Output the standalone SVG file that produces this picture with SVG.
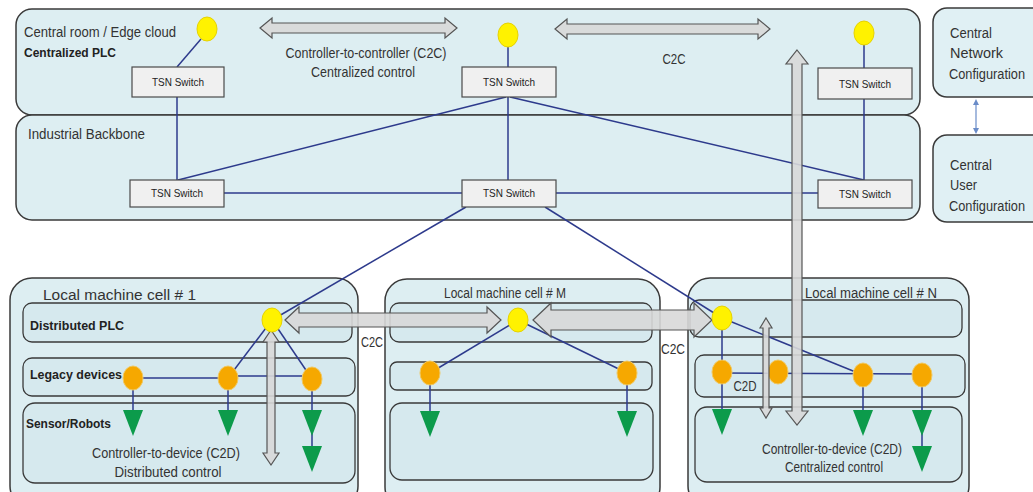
<svg xmlns="http://www.w3.org/2000/svg" width="1033" height="492" viewBox="0 0 1033 492">
  <style>
    .zone { fill: #ddeef2; stroke: #3a3a3a; stroke-width: 1.5; }
    .row { fill: #d6e9ee; stroke: #3a3a3a; stroke-width: 1.3; }
    .cfg { fill: #e0f0f4; stroke: #3a3a3a; stroke-width: 1.5; }
    .sw { fill: #f0f0f0; stroke: #4a4a4a; stroke-width: 1.2; }
    .swt { font-family: "Liberation Sans", Arial, sans-serif; font-size: 10.5px; fill: #222; text-anchor: middle; }
    .lbl { font-family: "Liberation Sans", Arial, sans-serif; font-size: 15.5px; fill: #333; }
    .lblc { font-family: "Liberation Sans", Arial, sans-serif; font-size: 14.5px; fill: #333; text-anchor: middle; }
    .bold { font-family: "Liberation Sans", Arial, sans-serif; font-size: 13.5px; font-weight: bold; fill: #222; }
    .ctl { fill: #fff200; stroke: #e6d200; stroke-width: 1; }
    .dev { fill: #f6a800; stroke: #f0c860; stroke-width: 1; }
    .act { fill: #0c9b4b; }
    .link { stroke: #2d3a8c; stroke-width: 1.5; fill: none; }
    .flow { fill: #d8d8d8; fill-opacity: 0.9; stroke: #555; stroke-width: 1.2; }
  </style>

  <!-- zones -->
  <g id="zone-central">
    <rect class="zone" x="16" y="9" width="904" height="106" rx="16"/>
    <text class="lbl" x="24" y="37" textLength="152" lengthAdjust="spacingAndGlyphs">Central room / Edge cloud</text>
    <text class="bold" x="24" y="57" textLength="92" lengthAdjust="spacingAndGlyphs">Centralized PLC</text>
  </g>
  <g id="zone-backbone">
    <rect class="zone" x="16" y="115" width="904" height="105" rx="16"/>
    <text class="lbl" x="28" y="139" textLength="117" lengthAdjust="spacingAndGlyphs">Industrial Backbone</text>
  </g>
  <g id="cfg-network">
    <rect class="cfg" x="933" y="8" width="120" height="89" rx="14"/>
    <text class="lbl" x="950" y="38" textLength="42" lengthAdjust="spacingAndGlyphs">Central</text>
    <text class="lbl" x="950" y="58" textLength="53" lengthAdjust="spacingAndGlyphs">Network</text>
    <text class="lbl" x="949" y="79" textLength="76" lengthAdjust="spacingAndGlyphs">Configuration</text>
  </g>
  <g id="cfg-user">
    <rect class="cfg" x="933" y="135" width="120" height="87" rx="14"/>
    <text class="lbl" x="950" y="170" textLength="42" lengthAdjust="spacingAndGlyphs">Central</text>
    <text class="lbl" x="950" y="190" textLength="27" lengthAdjust="spacingAndGlyphs">User</text>
    <text class="lbl" x="949" y="211" textLength="76" lengthAdjust="spacingAndGlyphs">Configuration</text>
  </g>

  <!-- machine cells -->
  <g id="cell-1">
    <rect class="zone" x="10" y="278" width="348" height="230" rx="22"/>
    <text class="lbl" x="43" y="300" textLength="153" lengthAdjust="spacingAndGlyphs">Local machine cell # 1</text>
    <rect class="row" x="23" y="303" width="329" height="39" rx="9"/>
    <rect class="row" x="23" y="358" width="332" height="38" rx="9"/>
    <rect class="row" x="23" y="403" width="332" height="80" rx="12"/>
    <text class="bold" x="30" y="330" textLength="94" lengthAdjust="spacingAndGlyphs">Distributed PLC</text>
    <text class="bold" x="30" y="379" textLength="92" lengthAdjust="spacingAndGlyphs">Legacy devices</text>
    <text class="bold" x="26" y="428" textLength="85" lengthAdjust="spacingAndGlyphs">Sensor/Robots</text>
    <text class="lblc" x="166" y="458" textLength="148" lengthAdjust="spacingAndGlyphs">Controller-to-device (C2D)</text>
    <text class="lblc" x="168" y="477" textLength="107" lengthAdjust="spacingAndGlyphs">Distributed control</text>
  </g>
  <g id="cell-m">
    <rect class="zone" x="385" y="279" width="275" height="230" rx="22"/>
    <text class="lbl" x="444" y="298" textLength="122" lengthAdjust="spacingAndGlyphs">Local machine cell # M</text>
    <rect class="row" x="390" y="303" width="262" height="39" rx="9"/>
    <rect class="row" x="390" y="362" width="262" height="28" rx="7"/>
    <rect class="row" x="390" y="403" width="263" height="77" rx="12"/>
  </g>
  <g id="cell-n">
    <rect class="zone" x="688" y="278" width="281" height="230" rx="22"/>
    <text class="lbl" x="805" y="298" textLength="132" lengthAdjust="spacingAndGlyphs">Local machine cell # N</text>
    <rect class="row" x="690" y="300" width="272" height="37" rx="9"/>
    <rect class="row" x="695" y="355" width="270" height="42" rx="9"/>
    <rect class="row" x="695" y="407" width="267" height="75" rx="12"/>
    <text class="lblc" x="832" y="454" textLength="140" lengthAdjust="spacingAndGlyphs">Controller-to-device (C2D)</text>
    <text class="lblc" x="834" y="472" textLength="98" lengthAdjust="spacingAndGlyphs">Centralized control</text>
  </g>

  <!-- links -->
  <g id="connectors">
    <!-- central room / backbone -->
    <line class="link" x1="201" y1="39" x2="177" y2="67"/>
    <line class="link" x1="177" y1="97" x2="177" y2="180"/>
    <line class="link" x1="508" y1="47" x2="508" y2="67"/>
    <line class="link" x1="508" y1="97" x2="508" y2="180"/>
    <line class="link" x1="506" y1="97" x2="178" y2="180"/>
    <line class="link" x1="510" y1="97" x2="864" y2="180"/>
    <line class="link" x1="864" y1="45" x2="864" y2="68"/>
    <line class="link" x1="864" y1="99" x2="864" y2="180"/>
    <line class="link" x1="224" y1="193" x2="462" y2="193"/>
    <line class="link" x1="556" y1="193" x2="818" y2="193"/>
    <!-- backbone to cells -->
    <line class="link" x1="466" y1="207" x2="272" y2="320"/>
    <line class="link" x1="545" y1="207" x2="722" y2="318"/>
    <!-- cell 1 -->
    <line class="link" x1="272" y1="320" x2="228" y2="378"/>
    <line class="link" x1="272" y1="320" x2="312" y2="379"/>
    <line class="link" x1="133" y1="378" x2="228" y2="378"/>
    <line class="link" x1="228" y1="376" x2="312" y2="376"/>
    <line class="link" x1="133" y1="378" x2="133" y2="412"/>
    <line class="link" x1="228" y1="378" x2="228" y2="412"/>
    <line class="link" x1="312" y1="379" x2="312" y2="450"/>
    <!-- cell M -->
    <line class="link" x1="518" y1="320" x2="430" y2="373"/>
    <line class="link" x1="518" y1="320" x2="627" y2="373"/>
    <line class="link" x1="430" y1="373" x2="430" y2="413"/>
    <line class="link" x1="627" y1="373" x2="627" y2="413"/>
    <!-- cell N -->
    <line class="link" x1="722" y1="318" x2="722" y2="412"/>
    <line class="link" x1="722" y1="318" x2="863" y2="375"/>
    <line class="link" x1="722" y1="373" x2="922" y2="374"/>
    <line class="link" x1="863" y1="375" x2="863" y2="413"/>
    <line class="link" x1="922" y1="375" x2="922" y2="450"/>
    <!-- configuration link -->
    <line x1="976" y1="102" x2="976" y2="131" stroke="#6a8cc8" stroke-width="1.2"/>
    <path d="M976,99 L973,105 L979,105 Z M976,134 L973,128 L979,128 Z" fill="#6a8cc8"/>
  </g>

  <!-- switches -->
  <g id="sw-top-left"><rect class="sw" x="132" y="67" width="92" height="30"/><text class="swt" x="178" y="86" textLength="52" lengthAdjust="spacingAndGlyphs">TSN Switch</text></g>
  <g id="sw-top-mid"><rect class="sw" x="462" y="67" width="94" height="30"/><text class="swt" x="509" y="86" textLength="52" lengthAdjust="spacingAndGlyphs">TSN Switch</text></g>
  <g id="sw-top-right"><rect class="sw" x="818" y="68" width="94" height="31"/><text class="swt" x="865" y="88" textLength="52" lengthAdjust="spacingAndGlyphs">TSN Switch</text></g>
  <g id="sw-bb-left"><rect class="sw" x="130" y="180" width="94" height="27"/><text class="swt" x="177" y="197" textLength="52" lengthAdjust="spacingAndGlyphs">TSN Switch</text></g>
  <g id="sw-bb-mid"><rect class="sw" x="462" y="180" width="94" height="27"/><text class="swt" x="509" y="197" textLength="52" lengthAdjust="spacingAndGlyphs">TSN Switch</text></g>
  <g id="sw-bb-right"><rect class="sw" x="818" y="180" width="94" height="28"/><text class="swt" x="865" y="198" textLength="52" lengthAdjust="spacingAndGlyphs">TSN Switch</text></g>

  <!-- controllers -->
  <g id="plc-central-1"><ellipse class="ctl" cx="207" cy="29" rx="10" ry="12"/></g>
  <g id="plc-central-2"><ellipse class="ctl" cx="508" cy="35" rx="10" ry="12"/></g>
  <g id="plc-central-3"><ellipse class="ctl" cx="864" cy="33" rx="10" ry="12"/></g>

  <!-- legacy devices -->
  <g id="dev-1a"><ellipse class="dev" cx="133" cy="378" rx="10" ry="12"/></g>
  <g id="dev-1b"><ellipse class="dev" cx="228" cy="378" rx="10" ry="12"/></g>
  <g id="dev-1c"><ellipse class="dev" cx="312" cy="379" rx="10" ry="12"/></g>
  <g id="dev-ma"><ellipse class="dev" cx="430" cy="373" rx="10" ry="12"/></g>
  <g id="dev-mb"><ellipse class="dev" cx="627" cy="373" rx="10" ry="12"/></g>
  <g id="dev-na"><ellipse class="dev" cx="722" cy="372" rx="10" ry="12"/></g>
  <g id="dev-nb"><ellipse class="dev" cx="778" cy="372" rx="10" ry="12"/></g>
  <g id="dev-nc"><ellipse class="dev" cx="863" cy="375" rx="10" ry="12"/></g>
  <g id="dev-nd"><ellipse class="dev" cx="922" cy="375" rx="10" ry="12"/></g>

  <!-- sensors / robots -->
  <g id="act-1a"><path class="act" d="M123,410 L143,410 L133,436 Z"/></g>
  <g id="act-1b"><path class="act" d="M218,410 L238,410 L228,436 Z"/></g>
  <g id="act-1c"><path class="act" d="M302,410 L322,410 L312,436 Z"/></g>
  <g id="act-1d"><path class="act" d="M302,446 L322,446 L312,472 Z"/></g>
  <g id="act-ma"><path class="act" d="M420,411 L440,411 L430,437 Z"/></g>
  <g id="act-mb"><path class="act" d="M617,411 L637,411 L627,437 Z"/></g>
  <g id="act-na"><path class="act" d="M712,409 L732,409 L722,435 Z"/></g>
  <g id="act-nc"><path class="act" d="M853,410 L873,410 L863,436 Z"/></g>
  <g id="act-nd"><path class="act" d="M912,410 L932,410 L922,436 Z"/></g>
  <g id="act-ne"><path class="act" d="M912,446 L932,446 L922,472 Z"/></g>

  <!-- traffic arrows -->
  <g id="flows">
    <!-- C2C, central room -->
    <path class="flow" d="M260,28 L272,18 L272,23 L445,23 L445,18 L457,28 L445,38 L445,33 L272,33 L272,38 Z"/>
    <path class="flow" d="M555,29 L567,19 L567,24 L758,24 L758,19 L770,29 L758,39 L758,34 L567,34 L567,39 Z"/>
    <text class="lblc" x="366" y="58" textLength="161" lengthAdjust="spacingAndGlyphs">Controller-to-controller (C2C)</text>
    <text class="lblc" x="363" y="77" textLength="104" lengthAdjust="spacingAndGlyphs">Centralized control</text>
    <text class="lblc" x="674" y="64" textLength="23" lengthAdjust="spacingAndGlyphs">C2C</text>
    <!-- C2C between cells -->
    <path class="flow" d="M285,320 L299,307 L299,313 L487,313 L487,307 L501,320 L487,333 L487,327 L299,327 L299,333 Z"/>
    <path class="flow" d="M533,320 L551,303 L551,310 L694,310 L694,303 L712,320 L694,337 L694,330 L551,330 L551,337 Z"/>
    <text class="lblc" x="372" y="347" font-size="13" textLength="22" lengthAdjust="spacingAndGlyphs">C2C</text>
    <text class="lblc" x="673" y="354" font-size="13" textLength="24" lengthAdjust="spacingAndGlyphs">C2C</text>
    <!-- C2D -->
    <path class="flow" d="M271,330 L279,342 L275,342 L275,453 L279,453 L271,465 L263,453 L267,453 L267,342 L263,342 Z"/>
    <path class="flow" d="M766,318 L772,328 L769,328 L769,408 L772,408 L766,418 L760,408 L763,408 L763,328 L760,328 Z"/>
    <text class="lblc" x="745" y="391" font-size="13" textLength="23" lengthAdjust="spacingAndGlyphs">C2D</text>
    <!-- central C2D -->
    <path class="flow" d="M797,50 L808,64 L802,64 L802,411 L808,411 L797,425 L786,411 L792,411 L792,64 L786,64 Z"/>
  </g>

  <!-- distributed controllers drawn over arrows -->
  <g id="plc-cell-1"><ellipse class="ctl" cx="272" cy="320" rx="10" ry="12"/></g>
  <g id="plc-cell-m"><ellipse class="ctl" cx="518" cy="320" rx="10" ry="12"/></g>
  <g id="plc-cell-n"><ellipse class="ctl" cx="722" cy="318" rx="10" ry="12"/></g>
</svg>
